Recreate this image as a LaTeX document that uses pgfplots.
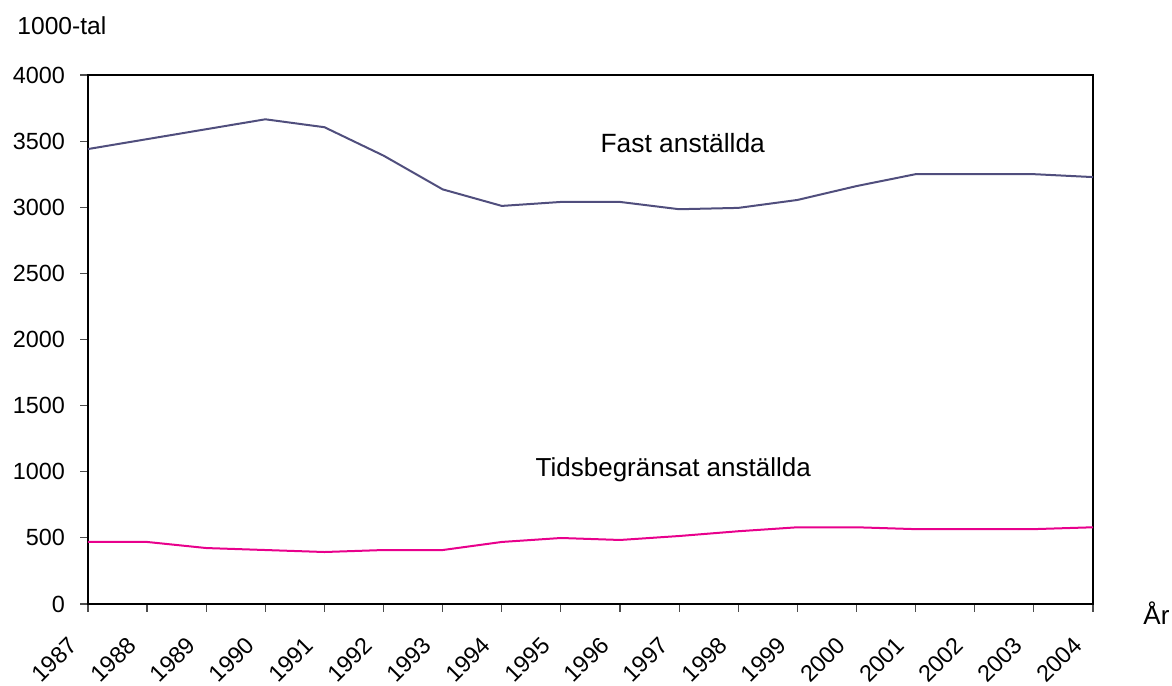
\documentclass[border=0pt]{standalone}
\usepackage{pgfplots}
\pgfplotsset{compat=1.18}
\usepackage{fontspec}
\setmainfont{Liberation Sans}
\definecolor{fastc}{RGB}{80,78,125}
\definecolor{tidc}{RGB}{232,0,140}
\begin{document}
\begin{tikzpicture}
\begin{axis}[
  scale only axis,
  width=502.5pt, height=264.5pt,
  xmin=1987, xmax=2004,
  ymin=0, ymax=4000,
  xtick={1987,...,2004},
  ytick={0,500,...,4000},
  xtick pos=bottom, ytick pos=left,
  tick align=outside,
  major tick length=4pt,
  tick style={black!70, line width=0.6pt},
  axis line style={black, line width=0.9pt},
  /pgf/number format/assume math mode=true,
  /pgf/number format/1000 sep={},
  tick label style={font=\fontsize{11.7}{13}\selectfont},
  xticklabel style={font=\fontsize{11.7}{13}\selectfont, xshift=-7.5pt, yshift=-14.5pt, rotate=45, anchor=east, inner sep=0pt},
  yticklabel style={xshift=-4pt},
  clip=false,
]
\addplot[color=fastc, line width=1pt] coordinates {
(1987,3440) (1988,3515) (1989,3590) (1990,3665) (1991,3605) (1992,3390)
(1993,3135) (1994,3010) (1995,3040) (1996,3040) (1997,2985) (1998,2995)
(1999,3055) (2000,3160) (2001,3250) (2002,3250) (2003,3250) (2004,3228)
};
\addplot[color=tidc, line width=1pt] coordinates {
(1987,469) (1988,469) (1989,423) (1990,408) (1991,393) (1992,408)
(1993,408) (1994,469) (1995,499) (1996,484) (1997,514) (1998,550)
(1999,580) (2000,580) (2001,566) (2002,566) (2003,566) (2004,580)
};
\node[font=\fontsize{13.2}{15}\selectfont] at (axis cs:1997.06,3486) {Fast anställda};
\node[font=\fontsize{13}{15}\selectfont] at (axis cs:1996.9,1013) {Tidsbegränsat anställda};
\node[font=\fontsize{13}{15}\selectfont, anchor=base west, inner sep=0pt] at ([shift={(25pt,-10.5pt)}]rel axis cs:1,0) {År};
\node[font=\fontsize{12.3}{14}\selectfont, anchor=base west, inner sep=0pt] at ([shift={(-35.5pt,20pt)}]rel axis cs:0,1) {1000-tal};
\coordinate (ll) at (rel axis cs:0,0);
\coordinate (ur) at (rel axis cs:1,1);
\end{axis}
\pgfresetboundingbox
\path ([shift={(-44pt,-41pt)}]ll) rectangle ([shift={(39.5pt,37.5pt)}]ur);
\end{tikzpicture}
\end{document}
